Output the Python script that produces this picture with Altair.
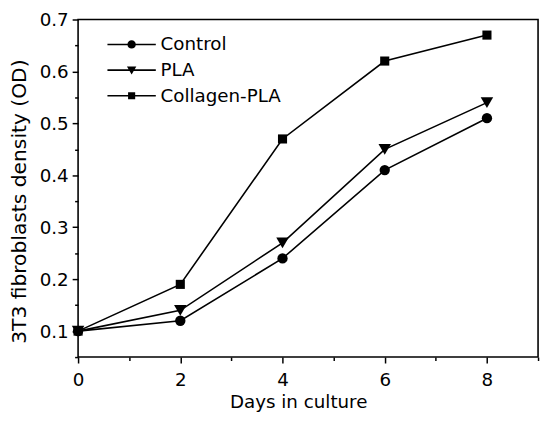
import altair as alt
import pandas as pd

# ---- data ----
days = [0, 2, 4, 6, 8]
series_names = ["Control", "PLA", "Collagen-PLA"]
control = [0.10, 0.12, 0.24, 0.41, 0.51]
pla = [0.10, 0.14, 0.27, 0.45, 0.54]
collagen_pla = [0.10, 0.19, 0.47, 0.62, 0.67]

x_ticks = [0, 1, 2, 3, 4, 5, 6, 7, 8, 9]
y_ticks = [0.05, 0.1, 0.15, 0.2, 0.25, 0.3, 0.35, 0.4, 0.45, 0.5, 0.55, 0.6, 0.65, 0.7]

marker_shapes = ["circle", "triangle-down", "square"]
marker_sizes = [110, 160, 85]

rows = []
for name, vals in zip(series_names, [control, pla, collagen_pla]):
    for d, v in zip(days, vals):
        rows.append({"day": d, "od": v, "series": name})
df = pd.DataFrame(rows)

FONT = "DejaVu Sans"
FS = 18.5

x_enc = alt.X(
    "day:Q",
    scale=alt.Scale(domain=[0, 9], nice=False),
    axis=alt.Axis(
        values=x_ticks, grid=False, domain=False,
        tickColor="black", tickWidth=1.5,
        tickSize={"condition": {"test": "datum.value % 2 === 0", "value": 6}, "value": 3.5},
        labelExpr="(datum.value % 2 === 0 && datum.value < 9) ? datum.label : ''",
        labelFont=FONT, labelFontSize=FS, labelColor="black", labelPadding=8,
        labelFlush=False, labelOverlap=False,
        title="Days in culture", titleFont=FONT, titleFontSize=FS,
        titleFontWeight="normal", titleColor="black",
        titleX=223, titleY=51, titleBaseline="alphabetic", titleAlign="center",
    ),
)
y_enc = alt.Y(
    "od:Q",
    scale=alt.Scale(domain=[0.05, 0.7], nice=False, zero=False),
    axis=alt.Axis(
        values=y_ticks, grid=False, domain=False,
        tickColor="black", tickWidth=1.5,
        tickSize={"condition": {"test": "round(datum.value * 100) % 10 === 0", "value": 6}, "value": 3.5},
        labelExpr="round(datum.value * 100) % 10 === 0 ? format(datum.value, '.1f') : ''",
        labelFont=FONT, labelFontSize=FS, labelColor="black", labelPadding=4,
        labelFlush=False, labelOverlap=False,
        title="3T3 fibroblasts density (OD)", titleFont=FONT, titleFontSize=20.5,
        titleFontWeight="normal", titleColor="black",
        titleX=-59, titleY=184, titleAngle=270, titleBaseline="middle", titleAlign="center",
    ),
)

# legend symbols: a thin bar (the line) with the series marker in the middle,
# all drawn clockwise so the filled union shows both parts
legend_paths = [
    "M-4.9,-0.16H4.9V0.16H-4.9Z"
    "M-0.85,0A0.85,0.85,0,1,1,0.85,0A0.85,0.85,0,1,1,-0.85,0Z",
    "M-4.9,-0.16H4.9V0.16H-4.9Z"
    "M-0.95,-0.75L0.95,-0.75L0,0.9Z",
    "M-4.9,-0.16H4.9V0.16H-4.9Z"
    "M-0.72,-0.72H0.72V0.72H-0.72Z",
]

legend = alt.Legend(
    orient="none", legendX=21, legendY=16, title=None,
    labelFont=FONT, labelFontSize=FS, labelColor="black",
    symbolSize=100, symbolOffset=24, labelOffset=20, rowPadding=7,
    symbolFillColor="black", symbolOpacity=1,
)

lines = alt.Chart(df).mark_line(color="black", strokeWidth=1.6).encode(
    x=x_enc, y=y_enc, detail="series:N"
)

point_layers = []
for name, shp, sz in zip(series_names, marker_shapes, marker_sizes):
    point_layers.append(
        alt.Chart(df).transform_filter(alt.datum.series == name)
        .mark_point(filled=True, color="black", opacity=1, shape=shp, size=sz)
        .encode(x=x_enc, y=y_enc)
    )

legend_layer = alt.Chart(df).transform_filter("false").mark_point(
    filled=True, color="black", opacity=1
).encode(
    x=x_enc, y=y_enc,
    shape=alt.Shape("series:N",
                    scale=alt.Scale(domain=series_names, range=legend_paths),
                    legend=legend),
)

chart = (
    alt.layer(lines, *point_layers, legend_layer)
    .properties(
        width=466, height=342,
        autosize=alt.AutoSizeParams(type="none"),
        padding={"left": 71, "top": 9, "right": 4, "bottom": 54},
        background="white",
    )
    .configure_view(stroke="black", strokeWidth=1.6)
)

chart.save("out.html", embed_options={"renderer": "svg", "actions": False})
